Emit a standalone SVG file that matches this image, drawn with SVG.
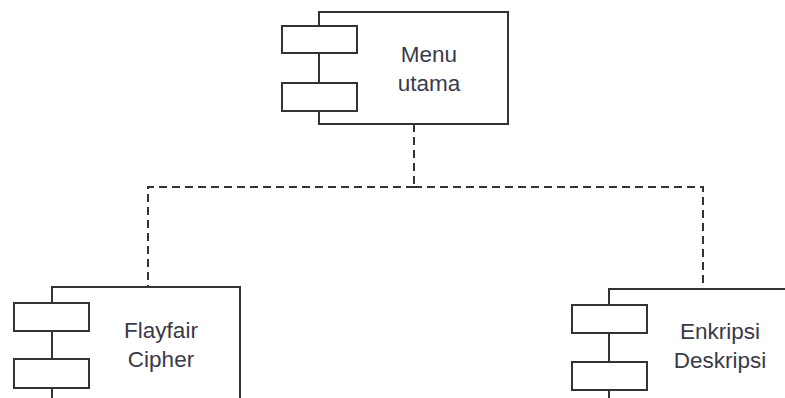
<svg xmlns="http://www.w3.org/2000/svg" width="785" height="398" viewBox="0 0 785 398">
  <style>
    .body { fill: #ffffff; stroke: #333333; stroke-width: 2; }
    .port { fill: #ffffff; stroke: #333333; stroke-width: 2; }
    .label { font-family: "Liberation Sans", Arial, sans-serif; font-size: 22.5px; fill: #3a3a48; text-anchor: middle; }
    .dep { fill: none; stroke: #333333; stroke-width: 2; stroke-dasharray: 8 5; }
  </style>
  <rect width="785" height="398" fill="#ffffff"/>

  <!-- dependency connectors -->
  <g id="connectors">
    <path class="dep" d="M414 124 V187"/>
    <path class="dep" d="M414 187 H148 V287"/>
    <path class="dep" d="M414 187 H703 V289"/>
  </g>

  <!-- component: Menu utama -->
  <g id="menu-utama">
    <rect class="body" x="319" y="12" width="189" height="112"/>
    <rect class="port" x="282" y="26" width="75" height="27"/>
    <rect class="port" x="282" y="83" width="75" height="28"/>
    <text class="label" x="429" y="62">Menu</text>
    <text class="label" x="429" y="91">utama</text>
  </g>

  <!-- component: Flayfair Cipher -->
  <g id="flayfair-cipher">
    <rect class="body" x="52" y="287" width="188" height="130"/>
    <rect class="port" x="14" y="303" width="75" height="28"/>
    <rect class="port" x="14" y="359" width="75" height="29"/>
    <text class="label" x="161" y="338">Flayfair</text>
    <text class="label" x="161" y="367">Cipher</text>
  </g>

  <!-- component: Enkripsi Deskripsi -->
  <g id="enkripsi-deskripsi">
    <rect class="body" x="609" y="289" width="200" height="130"/>
    <rect class="port" x="572" y="305" width="75" height="28"/>
    <rect class="port" x="572" y="362" width="75" height="28"/>
    <text class="label" x="720" y="339">Enkripsi</text>
    <text class="label" x="720" y="368">Deskripsi</text>
  </g>
</svg>
